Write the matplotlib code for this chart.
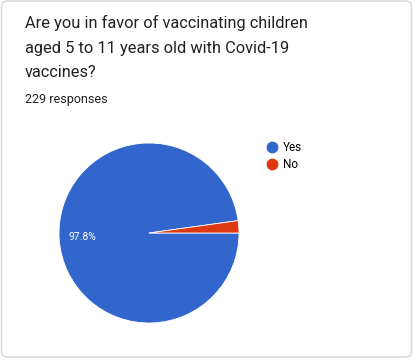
"""Google Forms style pie: Covid-19 vaccination of children aged 5-11."""

import matplotlib.pyplot as plt
from matplotlib.lines import Line2D
from matplotlib.patches import FancyBboxPatch

labels = ["Yes", "No"]
shares = [97.8, 2.2]
colors = ["#3366cc", "#dc3912"]
title_lines = [
    "Are you in favor of vaccinating children",
    "aged 5 to 11 years old with Covid-19",
    "vaccines?",
]
n_responses = 229

W, H = 415, 360
plt.rcParams["font.family"] = ["Roboto", "DejaVu Sans"]

fig = plt.figure(figsize=(W / 100, H / 100), dpi=100)
fig.patch.set_facecolor("#ffffff")

# card outline (behind everything)
card = FancyBboxPatch(
    (1.5 / W, 3 / H), (W - 5) / W, (H - 4) / H,
    boxstyle="round,pad=0,rounding_size=0.015",
    transform=fig.transFigure, facecolor="white", edgecolor="#dadce0", lw=1.2,
    zorder=-10,
)
fig.patches.append(card)

baselines = [28, 53, 77]
for line, yb in zip(title_lines, baselines):
    fig.text(25 / W, 1 - yb / H, line, fontsize=11.8, color="#202124",
             va="baseline", ha="left")
fig.text(25 / W, 1 - 103 / H, f"{n_responses} responses", fontsize=9,
         color="#202124", va="baseline", ha="left")

# pie axes: centre (149, 233), radius 90 px
r = 90
ax = fig.add_axes([(149 - r) / W, 1 - (233 + r) / H, 2 * r / W, 2 * r / H])
wedges, _ = ax.pie(shares, colors=colors, startangle=0, counterclock=False,
                   wedgeprops=dict(edgecolor="white", linewidth=0.6))
ax.set_xlim(-1.0, 1.0)
ax.set_ylim(-1.0, 1.0)
ax.set_aspect("equal")
ax.text(-0.74, -0.05, f"{shares[0]}%", color="white", fontsize=7.5,
        ha="center", va="center")

handles = [Line2D([], [], marker="o", ls="none", markersize=7.5, color=c)
           for c in colors]
fig.legend(handles, labels, loc="upper left", bbox_to_anchor=(267 / W, 1 - 141 / H),
           frameon=False, fontsize=8.5, handlelength=0.9, handletextpad=0.45,
           labelspacing=0.35, borderaxespad=0, borderpad=0)

fig.savefig("out.png", dpi=100)
